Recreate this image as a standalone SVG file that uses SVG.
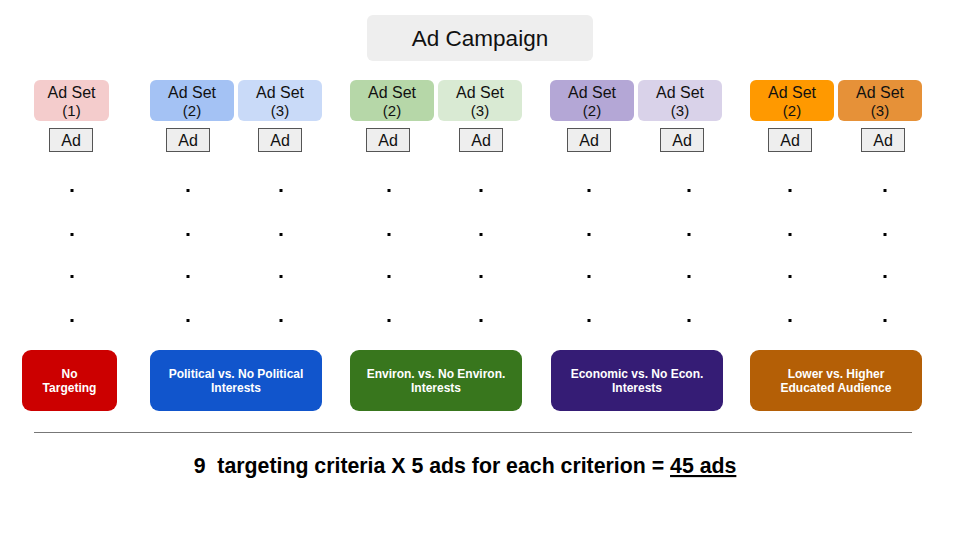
<svg xmlns="http://www.w3.org/2000/svg" width="960" height="540" viewBox="0 0 960 540">
<style>
text{font-family:"Liberation Sans",Arial,sans-serif;}
.set text{font-size:16px;fill:#111;text-anchor:middle;}
.set .n{font-size:15px;}
.ad rect{fill:#eeeeee;stroke:#555;stroke-width:1;}
.ad text{font-size:16px;fill:#111;text-anchor:middle;}
.crit text{font-size:12px;font-weight:bold;fill:#fff;text-anchor:middle;}
.dot{fill:#000;}
</style>
<rect width="960" height="540" fill="#fff"/>
<g id="campaign">
<rect x="367" y="15" width="226" height="46" rx="6" fill="#eeeeee"/>
<text x="480" y="46" font-size="22.5" text-anchor="middle" fill="#111">Ad Campaign</text>
</g>
<g id="adsets" class="set">
<g id="set1"><rect x="34" y="80" width="75" height="41" rx="6" fill="#f4cccc"/><text x="71.5" y="97.5">Ad Set</text><text class="n" x="71.5" y="115.5">(1)</text></g>
<g id="set-pol-2"><rect x="150" y="80" width="84" height="41" rx="6" fill="#a4c2f4"/><text x="192" y="97.5">Ad Set</text><text class="n" x="192" y="115.5">(2)</text></g>
<g id="set-pol-3"><rect x="238" y="80" width="84" height="41" rx="6" fill="#c9daf8"/><text x="280" y="97.5">Ad Set</text><text class="n" x="280" y="115.5">(3)</text></g>
<g id="set-env-2"><rect x="350" y="80" width="84" height="41" rx="6" fill="#b6d7a8"/><text x="392" y="97.5">Ad Set</text><text class="n" x="392" y="115.5">(2)</text></g>
<g id="set-env-3"><rect x="438" y="80" width="84" height="41" rx="6" fill="#d9ead3"/><text x="480" y="97.5">Ad Set</text><text class="n" x="480" y="115.5">(3)</text></g>
<g id="set-eco-2"><rect x="550" y="80" width="84" height="41" rx="6" fill="#b4a7d6"/><text x="592" y="97.5">Ad Set</text><text class="n" x="592" y="115.5">(2)</text></g>
<g id="set-eco-3"><rect x="638" y="80" width="84" height="41" rx="6" fill="#d9d2e9"/><text x="680" y="97.5">Ad Set</text><text class="n" x="680" y="115.5">(3)</text></g>
<g id="set-edu-2"><rect x="750" y="80" width="84" height="41" rx="6" fill="#ff9900"/><text x="792" y="97.5">Ad Set</text><text class="n" x="792" y="115.5">(2)</text></g>
<g id="set-edu-3"><rect x="838" y="80" width="84" height="41" rx="6" fill="#e69138"/><text x="880" y="97.5">Ad Set</text><text class="n" x="880" y="115.5">(3)</text></g>
</g>
<g id="ads" class="ad">
<g id="ad1"><rect x="49.5" y="128.5" width="43" height="23"/><text x="71" y="146">Ad</text></g>
<g id="ad2"><rect x="166.5" y="128.5" width="43" height="23"/><text x="188" y="146">Ad</text></g>
<g id="ad3"><rect x="258.5" y="128.5" width="43" height="23"/><text x="280" y="146">Ad</text></g>
<g id="ad4"><rect x="366.5" y="128.5" width="43" height="23"/><text x="388" y="146">Ad</text></g>
<g id="ad5"><rect x="459.5" y="128.5" width="43" height="23"/><text x="481" y="146">Ad</text></g>
<g id="ad6"><rect x="567.5" y="128.5" width="43" height="23"/><text x="589" y="146">Ad</text></g>
<g id="ad7"><rect x="660.5" y="128.5" width="43" height="23"/><text x="682" y="146">Ad</text></g>
<g id="ad8"><rect x="768.5" y="128.5" width="43" height="23"/><text x="790" y="146">Ad</text></g>
<g id="ad9"><rect x="861.5" y="128.5" width="43" height="23"/><text x="883" y="146">Ad</text></g>
</g>
<g id="dots" class="dot">
<g id="dots-y190"><rect x="70.5" y="189" width="3" height="3"/><rect x="186.5" y="189" width="3" height="3"/><rect x="279.5" y="189" width="3" height="3"/><rect x="387.5" y="189" width="3" height="3"/><rect x="479.5" y="189" width="3" height="3"/><rect x="587.5" y="189" width="3" height="3"/><rect x="687.5" y="189" width="3" height="3"/><rect x="788.5" y="189" width="3" height="3"/><rect x="883.5" y="189" width="3" height="3"/></g>
<g id="dots-y234"><rect x="70.5" y="233" width="3" height="3"/><rect x="186.5" y="233" width="3" height="3"/><rect x="279.5" y="233" width="3" height="3"/><rect x="387.5" y="233" width="3" height="3"/><rect x="479.5" y="233" width="3" height="3"/><rect x="587.5" y="233" width="3" height="3"/><rect x="687.5" y="233" width="3" height="3"/><rect x="788.5" y="233" width="3" height="3"/><rect x="883.5" y="233" width="3" height="3"/></g>
<g id="dots-y276"><rect x="70.5" y="275" width="3" height="3"/><rect x="186.5" y="275" width="3" height="3"/><rect x="279.5" y="275" width="3" height="3"/><rect x="387.5" y="275" width="3" height="3"/><rect x="479.5" y="275" width="3" height="3"/><rect x="587.5" y="275" width="3" height="3"/><rect x="687.5" y="275" width="3" height="3"/><rect x="788.5" y="275" width="3" height="3"/><rect x="883.5" y="275" width="3" height="3"/></g>
<g id="dots-y320"><rect x="70.5" y="319" width="3" height="3"/><rect x="186.5" y="319" width="3" height="3"/><rect x="279.5" y="319" width="3" height="3"/><rect x="387.5" y="319" width="3" height="3"/><rect x="479.5" y="319" width="3" height="3"/><rect x="587.5" y="319" width="3" height="3"/><rect x="687.5" y="319" width="3" height="3"/><rect x="788.5" y="319" width="3" height="3"/><rect x="883.5" y="319" width="3" height="3"/></g>
</g>
<g id="criteria" class="crit">
<g id="crit-none"><rect x="22" y="350" width="95" height="61" rx="9" fill="#cc0000"/><text x="69.5" y="378">No</text><text x="69.5" y="392">Targeting</text></g>
<g id="crit-pol"><rect x="150" y="350" width="172" height="61" rx="9" fill="#1155cc"/><text x="236" y="378">Political vs. No Political</text><text x="236" y="392">Interests</text></g>
<g id="crit-env"><rect x="350" y="350" width="172" height="61" rx="9" fill="#38761d"/><text x="436" y="378">Environ. vs. No Environ.</text><text x="436" y="392">Interests</text></g>
<g id="crit-eco"><rect x="551" y="350" width="172" height="61" rx="9" fill="#351c75"/><text x="637" y="378">Economic vs. No Econ.</text><text x="637" y="392">Interests</text></g>
<g id="crit-edu"><rect x="750" y="350" width="172" height="61" rx="9" fill="#b45f06"/><text x="836" y="378">Lower vs. Higher</text><text x="836" y="392">Educated Audience</text></g>
</g>
<g id="connectors">
<line x1="34" y1="432.5" x2="912" y2="432.5" stroke="#777" stroke-width="1.2"/>
</g>
<g id="summary">
<text x="465" y="473" font-size="21.3" font-weight="bold" text-anchor="middle" fill="#000" xml:space="preserve">9  targeting criteria X 5 ads for each criterion = <tspan text-decoration="underline">45 ads</tspan></text>
</g>
</svg>
